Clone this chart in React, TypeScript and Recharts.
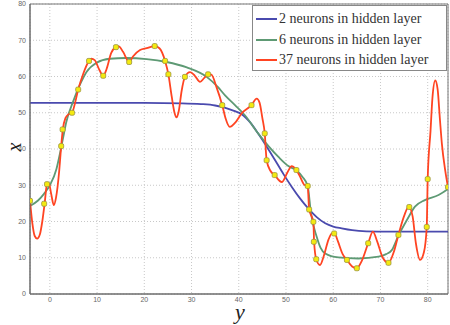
import React from 'react';
import {
  ComposedChart,
  Line,
  Scatter,
  XAxis,
  YAxis,
  CartesianGrid,
  ReferenceArea,
} from 'recharts';

// --- axis ticks ---
const xTicks = [0, 10, 20, 30, 40, 50, 60, 70, 80];
const yTicks = [0, 10, 20, 30, 40, 50, 60, 70, 80];
const xDomain = [-4.2, 84.3];

// --- training samples ---
const samples = [
  { x: -4.2, y: 25.7 }, { x: -1.2, y: 24.9 }, { x: -0.6, y: 30.3 }, { x: 2.4, y: 40.8 },
  { x: 2.7, y: 45.4 }, { x: 4.7, y: 50.0 }, { x: 6.0, y: 56.4 }, { x: 8.3, y: 64.3 },
  { x: 11.3, y: 60.2 }, { x: 14.0, y: 68.1 }, { x: 16.8, y: 64.0 }, { x: 22.2, y: 68.4 },
  { x: 24.4, y: 64.3 }, { x: 25.1, y: 60.6 }, { x: 28.6, y: 59.9 }, { x: 33.5, y: 60.6 },
  { x: 36.5, y: 52.1 }, { x: 42.7, y: 52.1 }, { x: 45.5, y: 44.3 }, { x: 45.9, y: 36.9 },
  { x: 47.6, y: 32.8 }, { x: 52.2, y: 34.2 }, { x: 54.6, y: 29.8 }, { x: 54.9, y: 23.3 },
  { x: 55.8, y: 19.9 }, { x: 55.9, y: 14.4 }, { x: 56.4, y: 9.6 }, { x: 60.2, y: 16.7 },
  { x: 62.9, y: 9.4 }, { x: 65.0, y: 7.1 }, { x: 67.4, y: 14.0 }, { x: 71.7, y: 8.6 },
  { x: 73.8, y: 16.3 }, { x: 76.1, y: 24.0 }, { x: 79.8, y: 18.5 }, { x: 80.0, y: 31.7 },
  { x: 84.3, y: 29.5 },
];

// --- network fits ---
const fit2 = [
  { x: -4.2, y: 52.7 }, { x: 10, y: 52.7 }, { x: 20, y: 52.7 }, { x: 28, y: 52.6 },
  { x: 32, y: 52.4 }, { x: 35, y: 52.0 }, { x: 37, y: 51.4 }, { x: 39, y: 50.5 },
  { x: 40.6, y: 49.6 }, { x: 42.5, y: 47.2 }, { x: 44.1, y: 44.3 }, { x: 46, y: 40.5 },
  { x: 47.7, y: 36.9 }, { x: 49.5, y: 33.0 }, { x: 51.2, y: 29.6 }, { x: 53, y: 26.3 },
  { x: 54.7, y: 23.6 }, { x: 56.5, y: 21.2 }, { x: 58.3, y: 19.5 }, { x: 60, y: 18.6 },
  { x: 61.8, y: 18.1 }, { x: 64, y: 17.6 }, { x: 67, y: 17.3 }, { x: 72, y: 17.2 },
  { x: 84.3, y: 17.2 },
];

const fit6 = [
  { x: -4.2, y: 24.3 }, { x: -2.5, y: 25.8 }, { x: -1.2, y: 27.7 }, { x: 0, y: 30.0 },
  { x: 1.4, y: 34.5 }, { x: 2.1, y: 38.5 }, { x: 2.8, y: 43.0 }, { x: 3.5, y: 47.5 },
  { x: 4.9, y: 53.0 }, { x: 6.4, y: 57.8 }, { x: 7.8, y: 61.3 }, { x: 9.9, y: 63.8 },
  { x: 12.7, y: 64.9 }, { x: 16.2, y: 65.1 }, { x: 20.5, y: 64.8 }, { x: 24.7, y: 64.0 },
  { x: 29, y: 62.5 }, { x: 33.2, y: 59.9 }, { x: 35.5, y: 57.2 }, { x: 37.1, y: 54.8 },
  { x: 39.2, y: 52.1 }, { x: 41.3, y: 49.3 }, { x: 44.1, y: 44.3 }, { x: 48.4, y: 37.8 },
  { x: 50.5, y: 35.3 }, { x: 52.1, y: 34.2 }, { x: 53.5, y: 32.3 }, { x: 54.6, y: 29.8 },
  { x: 55.3, y: 22.2 }, { x: 56.5, y: 15.8 }, { x: 57.3, y: 12.8 }, { x: 58.3, y: 11.2 },
  { x: 61.1, y: 10.1 }, { x: 65.3, y: 9.8 }, { x: 69.6, y: 10.3 }, { x: 71.2, y: 11.0 },
  { x: 72.4, y: 12.1 }, { x: 73.8, y: 16.1 }, { x: 75.6, y: 20.4 }, { x: 77.3, y: 24.1 },
  { x: 79.4, y: 25.9 }, { x: 82.3, y: 27.3 }, { x: 84.3, y: 29.0 },
];

const fit37 = [
  { x: -4.2, y: 25.7 }, { x: -3.7, y: 19.5 }, { x: -3.2, y: 16.0 }, { x: -2.7, y: 15.3 },
  { x: -2.1, y: 16.5 }, { x: -1.6, y: 20.0 }, { x: -1.1, y: 25.0 }, { x: -0.6, y: 30.3 },
  { x: -0.2, y: 30.6 }, { x: 0.3, y: 27.5 }, { x: 0.85, y: 24.5 }, { x: 1.3, y: 26.5 },
  { x: 2.0, y: 34.2 }, { x: 2.4, y: 40.8 }, { x: 2.75, y: 45.4 }, { x: 3.3, y: 48.5 },
  { x: 4.0, y: 49.6 }, { x: 4.7, y: 50.0 }, { x: 5.3, y: 52.5 }, { x: 6.0, y: 56.4 },
  { x: 7.0, y: 60.5 }, { x: 8.3, y: 64.3 }, { x: 8.8, y: 64.9 }, { x: 9.5, y: 64.5 },
  { x: 10.5, y: 61.8 }, { x: 11.3, y: 60.2 }, { x: 12.0, y: 62.0 }, { x: 13.0, y: 66.5 },
  { x: 14.0, y: 68.1 }, { x: 14.6, y: 68.3 }, { x: 15.5, y: 66.8 }, { x: 16.8, y: 64.0 },
  { x: 17.6, y: 65.5 }, { x: 19.1, y: 67.3 }, { x: 20.5, y: 67.8 }, { x: 22.2, y: 68.4 },
  { x: 23.2, y: 67.8 }, { x: 24.4, y: 64.3 }, { x: 25.1, y: 60.6 }, { x: 25.8, y: 54.5 },
  { x: 26.4, y: 50.0 }, { x: 26.8, y: 48.7 }, { x: 27.3, y: 50.5 }, { x: 27.9, y: 56.0 },
  { x: 28.6, y: 59.9 }, { x: 29.7, y: 61.2 }, { x: 30.7, y: 60.2 }, { x: 31.8, y: 58.5 },
  { x: 32.7, y: 59.6 }, { x: 33.5, y: 60.6 }, { x: 34.2, y: 60.5 }, { x: 35.3, y: 57.0 },
  { x: 36.5, y: 52.1 }, { x: 37.2, y: 48.5 }, { x: 38.1, y: 46.1 }, { x: 39.2, y: 47.2 },
  { x: 40.6, y: 49.8 }, { x: 42.7, y: 52.1 }, { x: 43.8, y: 53.9 }, { x: 44.4, y: 52.8 },
  { x: 45.0, y: 48.5 }, { x: 45.5, y: 44.3 }, { x: 45.9, y: 36.9 }, { x: 46.7, y: 34.0 },
  { x: 47.6, y: 32.8 }, { x: 49.1, y: 30.9 }, { x: 50.3, y: 33.5 }, { x: 51.2, y: 35.3 },
  { x: 52.2, y: 34.2 }, { x: 53.0, y: 32.3 }, { x: 53.8, y: 30.2 }, { x: 54.6, y: 29.6 },
  { x: 54.9, y: 23.3 }, { x: 55.4, y: 21.5 }, { x: 55.8, y: 19.9 }, { x: 55.95, y: 14.4 },
  { x: 56.4, y: 9.6 }, { x: 57.2, y: 8.0 }, { x: 58.0, y: 10.5 }, { x: 59.0, y: 15.0 },
  { x: 59.8, y: 16.8 }, { x: 60.3, y: 16.7 }, { x: 61.0, y: 14.5 }, { x: 62.0, y: 11.0 },
  { x: 62.9, y: 9.4 }, { x: 64.0, y: 7.6 }, { x: 65.0, y: 7.1 }, { x: 66.0, y: 9.0 },
  { x: 67.4, y: 14.0 }, { x: 68.4, y: 17.2 }, { x: 69.3, y: 14.5 }, { x: 70.5, y: 10.0 },
  { x: 71.7, y: 8.6 }, { x: 72.8, y: 11.5 }, { x: 73.8, y: 16.3 }, { x: 75.0, y: 21.5 },
  { x: 76.0, y: 24.1 }, { x: 76.8, y: 21.5 }, { x: 77.5, y: 14.0 }, { x: 78.4, y: 9.4 },
  { x: 79.2, y: 11.5 }, { x: 79.8, y: 18.5 }, { x: 80.0, y: 31.7 }, { x: 80.6, y: 45.0 },
  { x: 81.0, y: 54.0 }, { x: 81.6, y: 58.9 }, { x: 82.1, y: 56.5 }, { x: 82.6, y: 48.0 },
  { x: 83.0, y: 41.5 }, { x: 83.7, y: 34.2 }, { x: 84.3, y: 29.5 },
];

const seriesNames = [
  '2 neurons in hidden layer',
  '6 neurons in hidden layer',
  '37 neurons in hidden layer',
];
const seriesColors = ['#4a4aae', '#5e9a74', '#ff4422'];

const tickStyle = { fontSize: 7, fill: '#666', fontFamily: 'Liberation Sans, sans-serif' };

const SampleDot = (props: any) => {
  const { cx, cy } = props;
  return <rect x={cx - 2.5} y={cy - 2.5} width={5} height={5} rx={1.5} fill="#f4ea10" stroke="#9a9440" strokeWidth={0.8} />;
};

// legend drawn as a boxed overlay in the upper right of the plot
const LegendBox = () => (
  <div
    style={{
      position: 'absolute',
      left: 252,
      top: 5,
      width: 195,
      height: 66,
      background: '#fff',
      border: '1px solid #888',
      boxSizing: 'border-box',
      padding: '3px 0 0 3px',
      fontFamily: '"Liberation Serif", serif',
      fontSize: 14,
      color: '#333',
    }}
  >
    {seriesNames.map((name, i) => (
      <div key={name} style={{ display: 'flex', alignItems: 'center', height: 20.5 }}>
        <span style={{ display: 'inline-block', width: 21, height: 2, background: seriesColors[i], marginRight: 2 }} />
        <span style={{ whiteSpace: 'nowrap' }}>{name}</span>
      </div>
    ))}
  </div>
);

export default function App() {
  return (
    <div style={{ position: 'absolute', left: 0, top: 0, width: 450, height: 325, background: '#fff' }}>
      <ComposedChart width={450} height={325} margin={{ top: 4, right: 2, left: 4, bottom: 0 }}>
        <CartesianGrid stroke="#c8c8c8" strokeDasharray="1 2" />
        <XAxis
          dataKey="x"
          type="number"
          domain={xDomain}
          ticks={xTicks}
          allowDataOverflow
          height={31}
          stroke="#666"
          tickSize={0}
          tickMargin={3}
          tick={tickStyle}
        />
        <YAxis
          type="number"
          domain={[0, 80]}
          ticks={yTicks}
          allowDataOverflow
          width={26}
          stroke="#666"
          tickSize={0}
          tickMargin={4}
          tick={tickStyle}
        />
        <ReferenceArea x1={xDomain[0]} x2={xDomain[1]} y1={0} y2={80} fill="none" stroke="#777" strokeWidth={1} />
        <Line data={fit2} dataKey="y" type="monotone" stroke={seriesColors[0]} strokeWidth={1.8} dot={false} isAnimationActive={false} />
        <Line data={fit6} dataKey="y" type="monotone" stroke={seriesColors[1]} strokeWidth={1.8} dot={false} isAnimationActive={false} />
        <Line data={fit37} dataKey="y" type="monotone" stroke={seriesColors[2]} strokeWidth={1.8} dot={false} isAnimationActive={false} />
        <Scatter data={samples} dataKey="y" shape={<SampleDot />} isAnimationActive={false} />
      </ComposedChart>
      <LegendBox />
      <div
        style={{
          position: 'absolute',
          left: 10,
          top: 137,
          fontFamily: '"Liberation Serif", serif',
          fontStyle: 'italic',
          fontSize: 20,
          lineHeight: '20px',
          color: '#222',
          transform: 'rotate(-90deg)',
        }}
      >
        x
      </div>
      <div
        style={{
          position: 'absolute',
          left: 235,
          top: 304,
          fontFamily: '"Liberation Serif", serif',
          fontStyle: 'italic',
          fontSize: 22,
          lineHeight: '16px',
          color: '#222',
        }}
      >
        y
      </div>
    </div>
  );
}
